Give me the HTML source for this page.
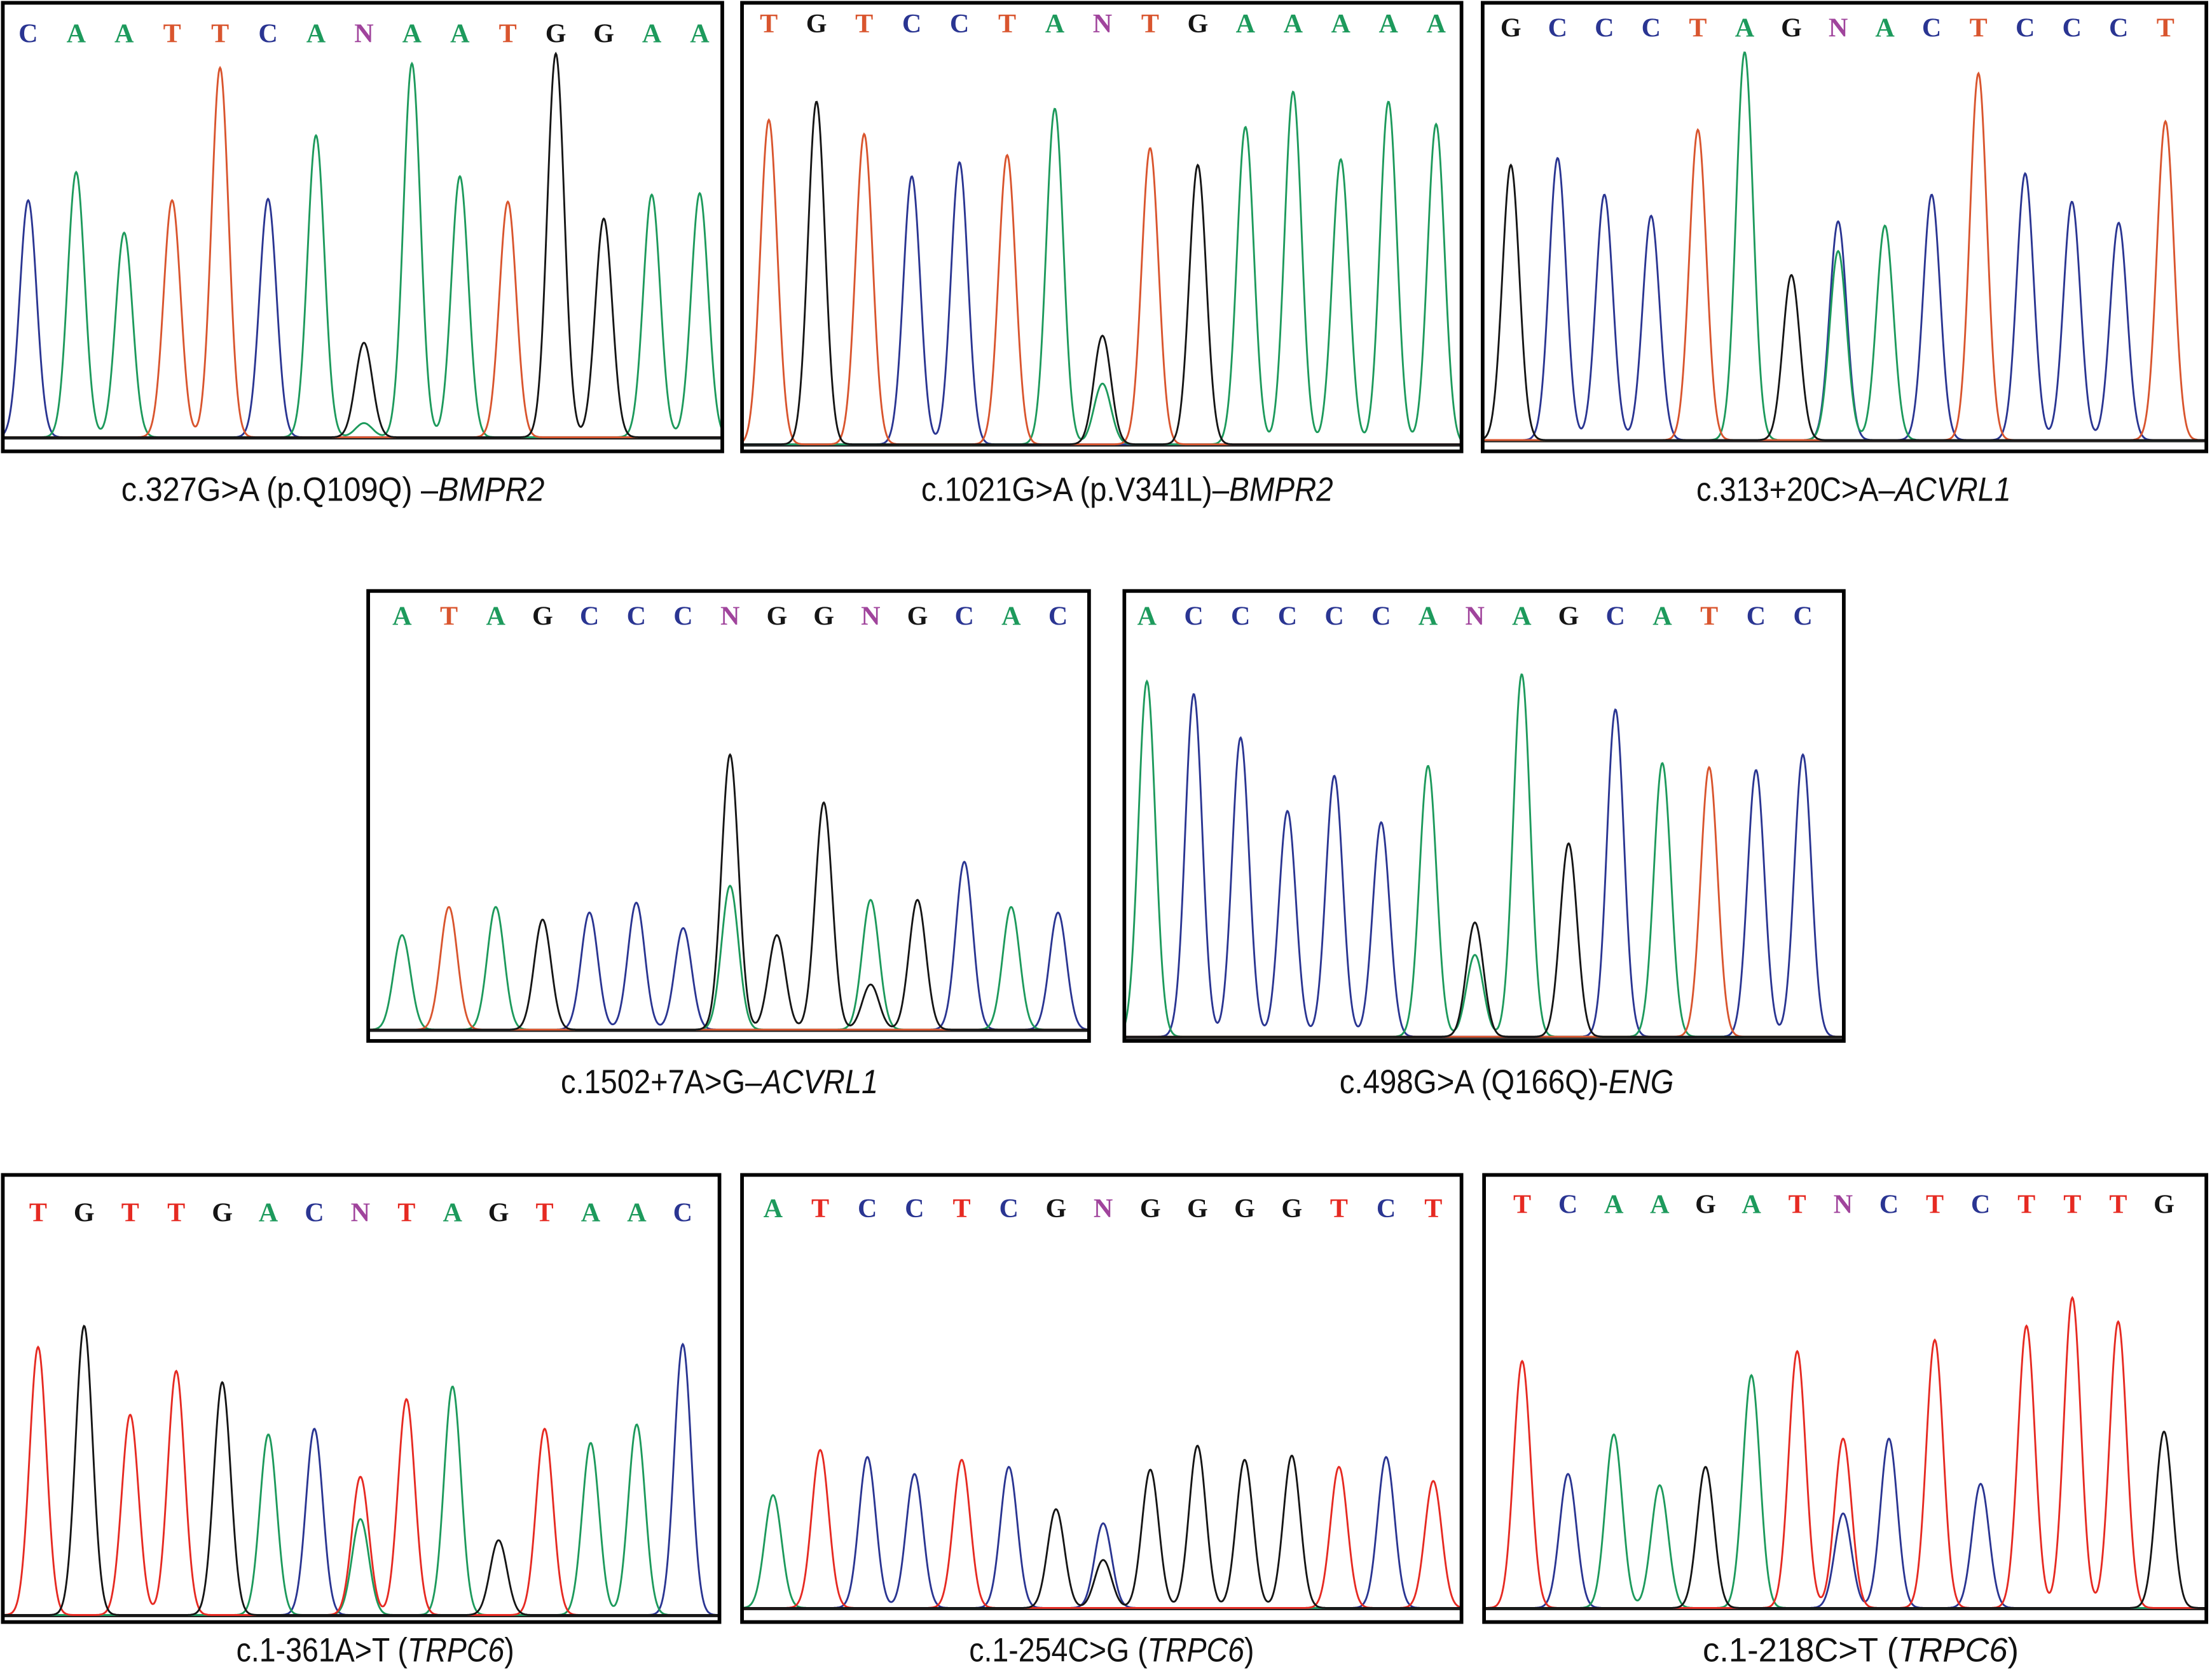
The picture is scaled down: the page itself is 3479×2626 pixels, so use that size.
<!DOCTYPE html>
<html><head><meta charset="utf-8"><style>
html,body{margin:0;padding:0;background:#fff;}
svg{display:block;}
</style></head><body>
<svg id="fig" width="3479" height="2626" viewBox="0 0 1568 1184" preserveAspectRatio="none" xmlns="http://www.w3.org/2000/svg"></svg>
<script>
// Displayed base calls (N = heterozygous)
const seq1="CAATTCANAATGGAA", seq2="TGTCCTANTGAAAAA", seq3="GCCCTAGNACTCCCT", seq4="ATAGCCCNGGNGCAC";
const seq5="ACCCCCANAGCATCC", seq6="TGTTGACNTAGTAAC", seq7="ATCCTCGNGGGGTCT", seq8="TCAAGATNCTCTTTG";
// Primary peak base per position
const peak1="CAATTCAGAATGGAA", peak2="TGTCCTAGTGAAAAA", peak3="GCCCTAGCACTCCCT", peak4="ATAGCCCGGGAGCAC";
const peak5="ACCCCCAGAGCATCC", peak6="TGTTGACTTAGTAAC", peak7="ATCCTCGCGGGGTCT", peak8="TCAAGATTCTCTTTG";
// Primary peak heights
const h1=[168,188,145,168,262,169,214,67,265,185,167,272,155,172,173];
const h2=[230,243,220,190,200,205,238,77,210,198,225,250,202,243,227];
const h3=[195,200,174,159,220,275,117,155,152,174,260,189,169,154,226];
const h4=[67,87,87,78,83,90,72,195,67,161,92,92,119,87,83];
const h5=[252,243,212,160,185,152,192,81,257,137,232,194,191,189,200];
const h6=[190,205,142,173,165,128,132,98,153,162,53,132,122,135,192];
const h7=[80,112,107,95,105,100,70,60,98,115,105,108,100,107,90];
const h8=[175,95,123,87,100,165,182,120,120,190,88,200,220,203,125];
// Secondary peaks [position index, base, height]
const alt1=[[7,"A",10]], alt2=[[7,"A",43]], alt3=[[7,"A",134]], alt4=[[7,"A",102],[10,"G",32]];
const alt5=[[7,"A",58]], alt6=[[7,"A",68]], alt7=[[7,"G",34]], alt8=[[7,"C",67]];
// Captions
const cap1=["c.327G>A (p.Q109Q) \u2013","BMPR2",""], cap2=["c.1021G>A (p.V341L)\u2013","BMPR2",""];
const cap3=["c.313+20C>A\u2013","ACVRL1",""], cap4=["c.1502+7A>G\u2013","ACVRL1",""];
const cap5=["c.498G>A (Q166Q)-","ENG",""], cap6=["c.1-361A>T (","TRPC6",")"];
const cap7=["c.1-254C>G (","TRPC6",")"], cap8=["c.1-218C>T (","TRPC6",")"];

const NS="http://www.w3.org/2000/svg";
const svg=document.getElementById("fig");
const colA={A:"#1d9a5c",C:"#2a3592",G:"#151515",T:"#d9552e",N:"#a0449c"};
const colB={A:"#1d9a5c",C:"#2a3592",G:"#151515",T:"#e62a22",N:"#a0449c"};
const panels=[
 {x:2,y:2,w:510,h:318,base:310,lx0:20,lx1:496,ly:30,cx:236,cy:355,fs:24,tl:300,pal:0},
 {x:526,y:2,w:510,h:318,base:315,lx0:545,lx1:1018,ly:23,cx:799,cy:355,fs:24,tl:292,pal:0},
 {x:1051,y:2,w:513,h:318,base:312,lx0:1071,lx1:1535,ly:26,cx:1314,cy:355,fs:24,tl:223,pal:0},
 {x:261,y:419,w:511,h:319,base:730,lx0:285,lx1:750,ly:443,cx:510,cy:775,fs:24,tl:225,pal:0},
 {x:797,y:419,w:510,h:319,base:735,lx0:813,lx1:1278,ly:443,cx:1068,cy:775,fs:24,tl:237,pal:0},
 {x:2,y:833,w:508,h:317,base:1145,lx0:27,lx1:484,ly:866,cx:266,cy:1178,fs:24,tl:197,pal:1},
 {x:526,y:833,w:510,h:317,base:1140,lx0:548,lx1:1016,ly:863,cx:788,cy:1178,fs:24,tl:202,pal:1},
 {x:1052,y:833,w:512,h:317,base:1140,lx0:1079,lx1:1534,ly:860,cx:1319,cy:1178,fs:24,tl:224,pal:1}
];
const seqs=[seq1,seq2,seq3,seq4,seq5,seq6,seq7,seq8];
const peaks=[peak1,peak2,peak3,peak4,peak5,peak6,peak7,peak8];
const hs=[h1,h2,h3,h4,h5,h6,h7,h8];
const alts=[alt1,alt2,alt3,alt4,alt5,alt6,alt7,alt8];
const caps=[cap1,cap2,cap3,cap4,cap5,cap6,cap7,cap8];

function mk(tag,attrs,parent){const e=document.createElementNS(NS,tag);for(const k in attrs)e.setAttribute(k,attrs[k]);(parent||svg).appendChild(e);return e;}

panels.forEach((p,pi)=>{
  const col=p.pal?colB:colA;
  const g=mk("g",{});
  
  
  const sq=seqs[pi], n=sq.length;
  const xScale=i=>p.lx0+i*(p.lx1-p.lx0)/(n-1);
  const yScale=v=>p.base-v;
  const sigma=6;
  const byBase={A:[],C:[],G:[],T:[]};
  for(let i=0;i<n;i++) byBase[peaks[pi][i]].push([xScale(i),hs[pi][i]]);
  alts[pi].forEach(a=>byBase[a[1]].push([xScale(a[0]),a[2]]));
  const cid="clip"+pi;
  const cp=mk("clipPath",{id:cid},g);
  mk("rect",{x:p.x,y:p.y,width:p.w,height:p.h},cp);
  const tg=mk("g",{"clip-path":"url(#"+cid+")"},g);
  mk("line",{x1:p.x,x2:p.x+p.w,y1:p.base+1,y2:p.base+1,stroke:"#222","stroke-width":1.2},tg);
  ["C","A","T","G"].forEach(b=>{
    let d="";
    for(let x=p.x;x<=p.x+p.w;x+=0.5){
      let v=0;byBase[b].forEach(pk=>{const dx=x-pk[0];v+=pk[1]*Math.exp(-dx*dx/(2*sigma*sigma));});
      d+=(d?"L":"M")+x.toFixed(1)+","+yScale(v).toFixed(1);
    }
    const path=mk("path",{d:d,fill:"none",stroke:col[b],"stroke-width":1.3},tg);
    
    
  });
  for(let i=0;i<n;i++){
    const t=mk("text",{x:xScale(i),y:p.ly,"text-anchor":"middle","font-family":"Liberation Serif, serif","font-size":19,"font-weight":"bold",fill:col[sq[i]]},g);
    t.textContent=sq[i];
    
    
  }
  const fr=mk("rect",{x:p.x,y:p.y,width:p.w,height:p.h,fill:"none",stroke:"#000","stroke-width":2.6},g);
  
  
  const c=caps[pi];
  const ct=mk("text",{x:p.cx,y:p.cy,"text-anchor":"middle","font-family":"Liberation Sans, sans-serif","font-size":p.fs,fill:"#111",textLength:p.tl,lengthAdjust:"spacingAndGlyphs"},g);
  
  
  const s1=mk("tspan",{},ct);s1.textContent=c[0];
  const s2=mk("tspan",{"font-style":"italic"},ct);s2.textContent=c[1];
  const s3=mk("tspan",{},ct);s3.textContent=c[2];
});
</script>
</body></html>
